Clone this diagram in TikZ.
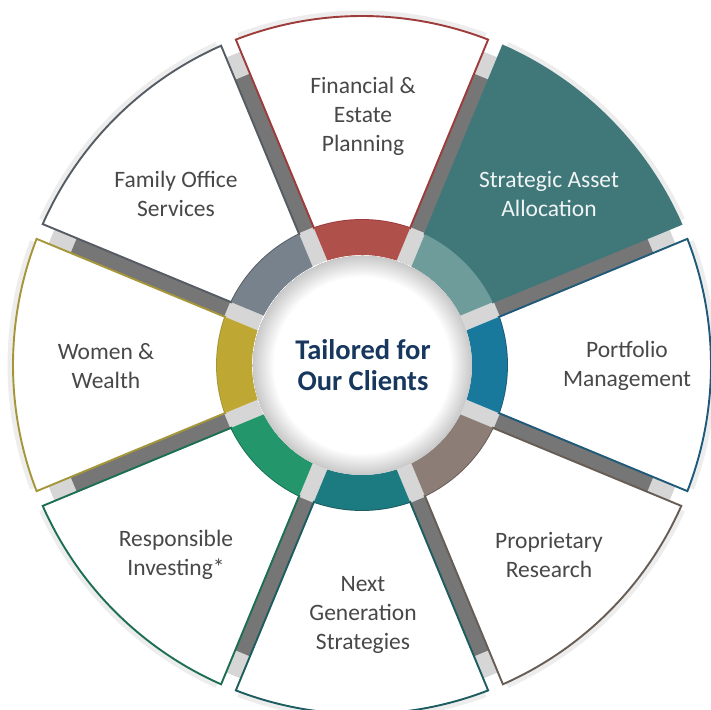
\documentclass[tikz,border=0pt]{standalone}
\usepackage{fontspec}
\setmainfont{Carlito}
\usepackage{xcolor}
\usepackage{tikz}
\usetikzlibrary{calc, positioning}

\definecolor{finborder}{HTML}{9E3B3B}
\definecolor{finarc}{HTML}{B0504A}
\definecolor{saafill}{HTML}{40787A}
\definecolor{saaarc}{HTML}{6E9C9B}
\definecolor{portborder}{HTML}{1F5A7A}
\definecolor{portarc}{HTML}{18799C}
\definecolor{propborder}{HTML}{675D55}
\definecolor{proparc}{HTML}{8C7E76}
\definecolor{nextborder}{HTML}{1D5C60}
\definecolor{nextarc}{HTML}{1B7B80}
\definecolor{respborder}{HTML}{1C6E55}
\definecolor{resparc}{HTML}{23966C}
\definecolor{womenborder}{HTML}{A5963A}
\definecolor{womenarc}{HTML}{BFA734}
\definecolor{famborder}{HTML}{555C63}
\definecolor{famarc}{HTML}{77828C}
\definecolor{bardark}{HTML}{767676}
\definecolor{barlight}{HTML}{D6D6D6}
\definecolor{wtextcol}{HTML}{484848}
\definecolor{hubcol}{HTML}{17375E}

\pgfdeclareradialshading{hubshadow}{\pgfpoint{0bp}{0bp}}{color(0bp)=(white); color(20bp)=(white); color(25bp)=(black!22)}

% one piece of the wheel: #1 middle angle, #2 border, #3 fill, #4 inner arc
\newcommand{\wheelpart}[4]{
	\draw[black, opacity=0.07, line width=7] ({#1-20.6}:351) arc[start angle={#1-20.6}, end angle={#1+20.6}, radius=351];
	\filldraw[draw=#2,fill=#3,line width=1.9,line join=miter]
		({#1-21.19}:349) arc[start angle={#1-21.19}, end angle={#1+21.19}, radius=349]
		-- ({#1+19.34}:145) arc[start angle={#1+19.34}, end angle={#1-19.34}, radius=145] -- cycle;
	\fill[#4] ({#1-18.33}:110) -- ({#1-19.34}:145) arc[start angle={#1-19.34}, end angle={#1+19.34}, radius=145]
		-- ({#1+18.33}:110) arc[start angle={#1+18.33}, end angle={#1-18.33}, radius=110] -- cycle;
}

\begin{document}
\begin{tikzpicture}[x=1pt, y=1pt]
		\tikzstyle{spoke}=[barlight, line width=16, line cap=butt]
		\tikzstyle{spokecore}=[bardark, line width=16, line cap=butt]
		\tikzstyle{wtext}=[align=center, text=wtextcol, font=\fontsize{23.5}{29}\selectfont]
		\useasboundingbox (-362,-344) rectangle (349,365);

		% gray spokes
		\draw[spoke] (22.5:110) -- (22.5:336);
		\draw[spoke] (67.5:110) -- (67.5:336);
		\draw[spoke] (112.5:110) -- (112.5:336);
		\draw[spoke] (157.5:110) -- (157.5:336);
		\draw[spoke] (202.5:110) -- (202.5:336);
		\draw[spoke] (247.5:110) -- (247.5:336);
		\draw[spoke] (292.5:110) -- (292.5:336);
		\draw[spoke] (337.5:110) -- (337.5:336);
		\draw[spokecore] (22.5:146) -- (22.5:312);
		\draw[spokecore] (67.5:146) -- (67.5:312);
		\draw[spokecore] (112.5:146) -- (112.5:312);
		\draw[spokecore] (157.5:146) -- (157.5:312);
		\draw[spokecore] (202.5:146) -- (202.5:312);
		\draw[spokecore] (247.5:146) -- (247.5:312);
		\draw[spokecore] (292.5:146) -- (292.5:312);
		\draw[spokecore] (337.5:146) -- (337.5:312);

		% the eight pieces
		\wheelpart{90}{finborder}{white}{finarc}
		\wheelpart{45}{saafill}{saafill}{saaarc}
		\wheelpart{0}{portborder}{white}{portarc}
		\wheelpart{-45}{propborder}{white}{proparc}
		\wheelpart{-90}{nextborder}{white}{nextarc}
		\wheelpart{-135}{respborder}{white}{resparc}
		\wheelpart{180}{womenborder}{white}{womenarc}
		\wheelpart{135}{famborder}{white}{famarc}

		% hub
		\shade[shading=hubshadow] (0,0) circle (110);
		\node[align=center, text=hubcol, font=\bfseries\fontsize{28.5}{31}\selectfont] (hub) at (1,0) {Tailored for\\Our Clients};

		\node[wtext] (fin) at (1,249) {Financial \&\\Estate\\Planning};
		\node[wtext, text=white!92!saafill] (saa) at (187,171) {Strategic Asset\\Allocation};
		\node[wtext] (port) at (265,-1) {Portfolio\\Management};
		\node[wtext] (prop) at (187,-190) {Proprietary\\Research};
		\node[wtext] (nextgen) at (1,-250) {Next\\Generation\\Strategies};
		\node[wtext] (resp) at (-186,-190) {Responsible\\Investing*};
		\node[wtext] (women) at (-256,-1) {Women \&\\Wealth};
		\node[wtext] (family) at (-186,171) {Family Office\\Services};
	\end{tikzpicture}
\end{document}
